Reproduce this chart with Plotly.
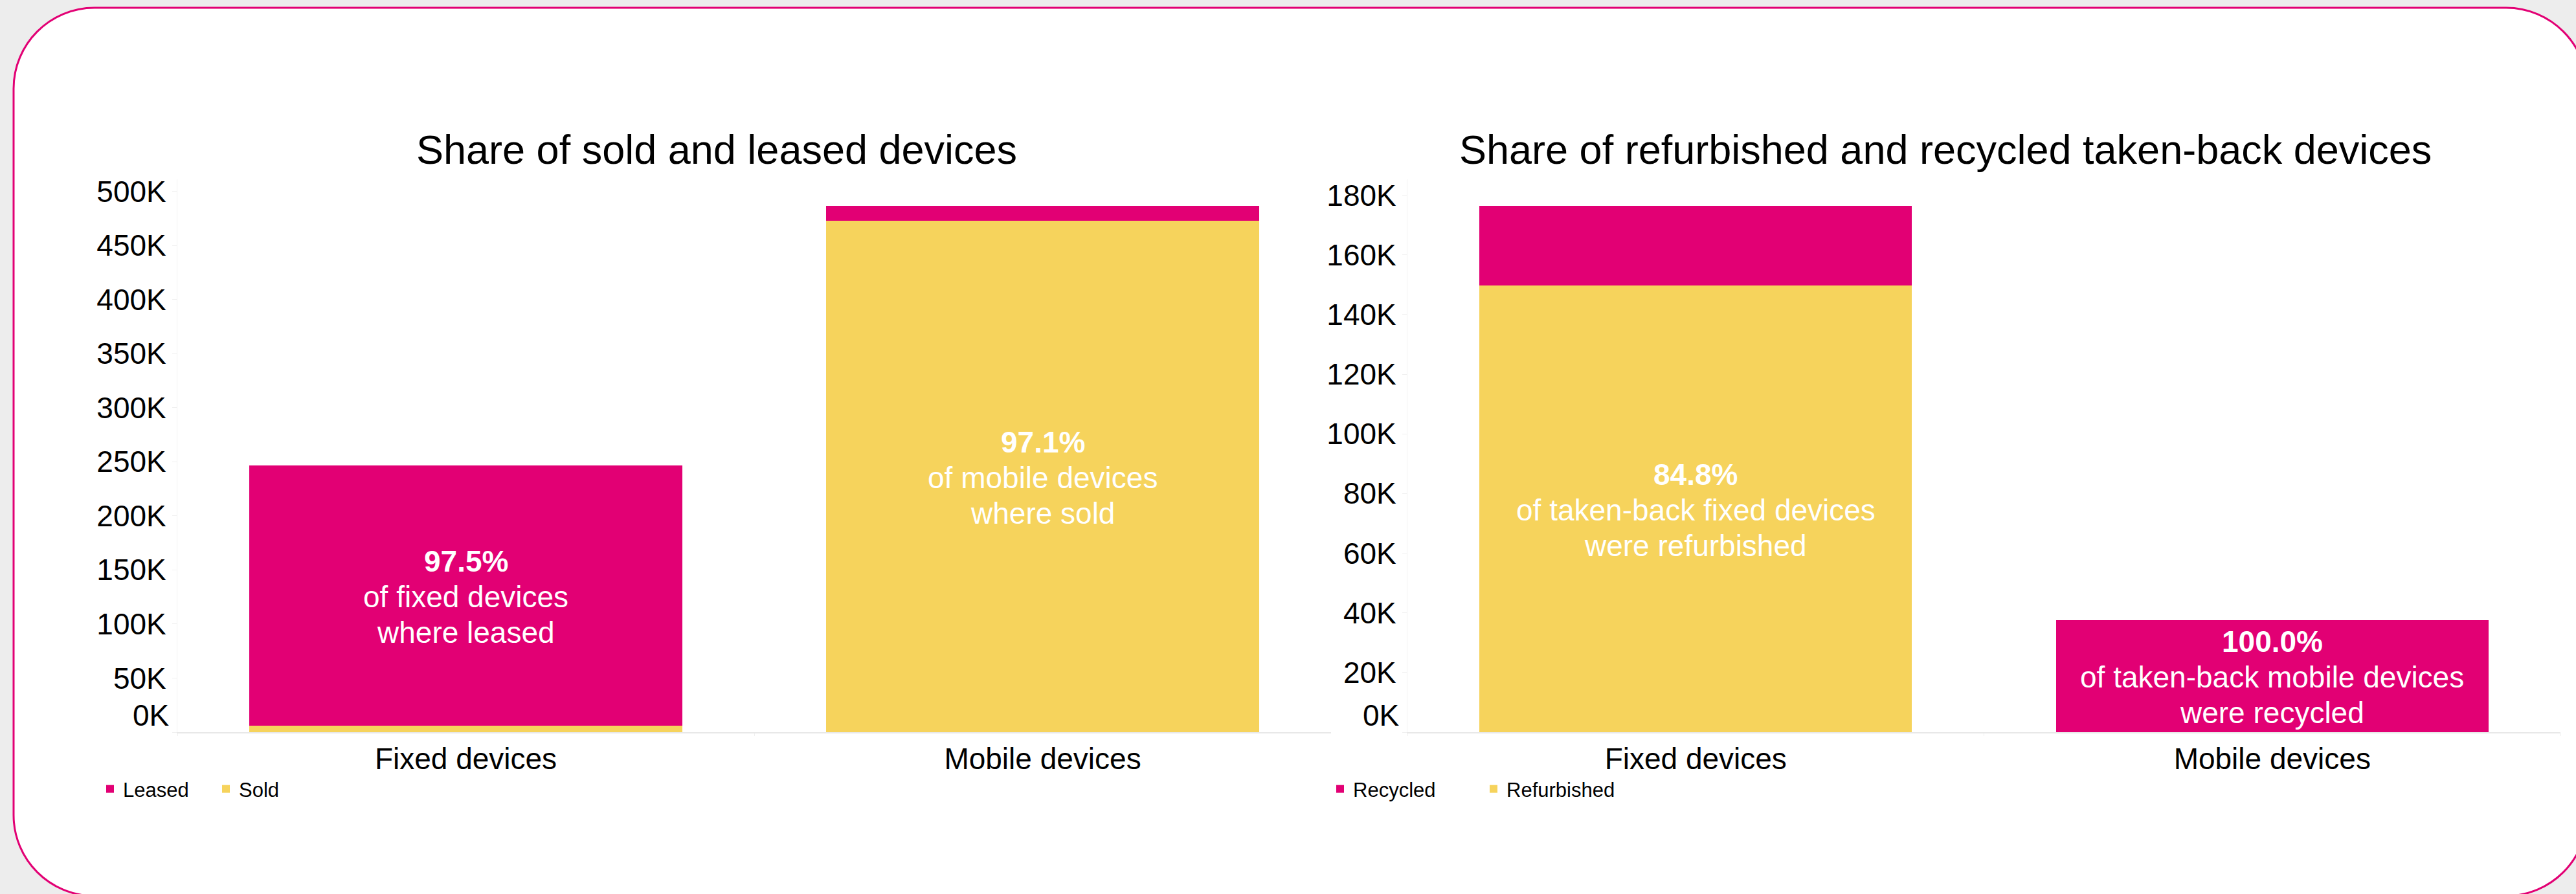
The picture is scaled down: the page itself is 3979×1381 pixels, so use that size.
import plotly.graph_objects as go

# ---------------- data ----------------
categories = ["Fixed devices", "Mobile devices"]

sold = [6200, 472600]          # bottom segment, left chart
leased = [240500, 14200]       # top segment, left chart

refurbished = [149700, 0]      # bottom segment, right chart
recycled = [26800, 37600]      # top segment, right chart

left_ticks = [0, 50000, 100000, 150000, 200000, 250000, 300000, 350000, 400000, 450000, 500000]
right_ticks = [0, 20000, 40000, 60000, 80000, 100000, 120000, 140000, 160000, 180000]

left_title = "Share of sold and leased devices"
right_title = "Share of refurbished and recycled taken-back devices"

# ---------------- style ----------------
MAGENTA = "#E20074"
YELLOW = "#F6D35C"
FONT = "Liberation Sans, Arial, sans-serif"
W, H = 3979, 1381


def px_x(x):
    return x / W


def px_y(y):
    return (H - y) / H


def k_label(v):
    return f"{int(v / 1000)}K"


fig = go.Figure()

fig.add_trace(go.Bar(x=categories, y=sold, name="Sold", marker_color=YELLOW,
                     xaxis="x", yaxis="y", legend="legend"))
fig.add_trace(go.Bar(x=categories, y=leased, name="Leased", marker_color=MAGENTA,
                     xaxis="x", yaxis="y", legend="legend"))
fig.add_trace(go.Bar(x=categories, y=refurbished, name="Refurbished", marker_color=YELLOW,
                     xaxis="x2", yaxis="y2", legend="legend2"))
fig.add_trace(go.Bar(x=categories, y=recycled, name="Recycled", marker_color=MAGENTA,
                     xaxis="x2", yaxis="y2", legend="legend2"))

left_max = max(s + l for s, l in zip(sold, leased)) * 1.05
right_max = max(r + c for r, c in zip(refurbished, recycled)) * 1.05

ydom = [px_y(1131), px_y(277)]

axis_font = dict(family=FONT, size=46, color="#000000")
YTICKLEN = 7

common_x = dict(type="category", tickfont=axis_font, showline=True, linecolor="#E8E8E8",
                linewidth=2, showgrid=False, ticks="outside", tickson="boundaries",
                ticklen=4, tickcolor="#EFEFEF", zeroline=False, fixedrange=True,
                automargin=False)
common_y = dict(tickfont=axis_font, showline=True, linecolor="#F2F2F2", linewidth=1,
                showgrid=False, ticks="outside", ticklen=YTICKLEN, tickcolor="#F0F0F0",
                zeroline=False, domain=ydom, automargin=False)

# zero label is drawn separately (it sits a little above the baseline)
left_text = ["" if v == 0 else k_label(v) for v in left_ticks]
right_text = ["" if v == 0 else k_label(v) for v in right_ticks]

fig.update_layout(
    template="none",
    width=W, height=H,
    autosize=False,
    margin=dict(l=0, r=0, t=0, b=0, pad=0, autoexpand=False),
    paper_bgcolor="#EDEDED",
    plot_bgcolor="rgba(0,0,0,0)",
    barmode="stack",
    bargap=0.25,
    font=dict(family=FONT, color="#000000"),
    xaxis=dict(domain=[px_x(274), px_x(2056)], anchor="y", **common_x),
    xaxis2=dict(domain=[px_x(2174), px_x(3955)], anchor="y2", **common_x),
    yaxis=dict(anchor="x", range=[0, left_max], tickvals=left_ticks,
               ticktext=left_text, **common_y),
    yaxis2=dict(anchor="x2", range=[0, right_max], tickvals=right_ticks,
                ticktext=right_text, **common_y),
    legend=dict(orientation="h", traceorder="reversed", x=px_x(150), xanchor="left",
                y=px_y(1219), yanchor="middle", font=dict(family=FONT, size=31, color="#000"),
                entrywidth=134, entrywidthmode="pixels", bgcolor="rgba(0,0,0,0)",
                borderwidth=0),
    legend2=dict(orientation="h", traceorder="reversed", x=px_x(2050), xanchor="left",
                 y=px_y(1219), yanchor="middle", font=dict(family=FONT, size=31, color="#000"),
                 entrywidth=192, entrywidthmode="pixels", bgcolor="rgba(0,0,0,0)",
                 borderwidth=0),
    showlegend=True,
)

for xr, yr in (("x domain", "y"), ("x2 domain", "y2")):
    fig.add_annotation(text=k_label(0), x=0, y=0, xref=xr, yref=yr, showarrow=False,
                       xanchor="right", yanchor="middle", xshift=-(YTICKLEN + 3), yshift=26,
                       font=axis_font)

# rounded card with magenta border
L, T, R, B, r = 21, 12, 3996, 1384, 125
k = 0.5523 * r
path = (
    f"M {px_x(L + r)},{px_y(T)} "
    f"L {px_x(R - r)},{px_y(T)} "
    f"C {px_x(R - r + k)},{px_y(T)} {px_x(R)},{px_y(T + r - k)} {px_x(R)},{px_y(T + r)} "
    f"L {px_x(R)},{px_y(B - r)} "
    f"C {px_x(R)},{px_y(B - r + k)} {px_x(R - r + k)},{px_y(B)} {px_x(R - r)},{px_y(B)} "
    f"L {px_x(L + r)},{px_y(B)} "
    f"C {px_x(L + r - k)},{px_y(B)} {px_x(L)},{px_y(B - r + k)} {px_x(L)},{px_y(B - r)} "
    f"L {px_x(L)},{px_y(T + r)} "
    f"C {px_x(L)},{px_y(T + r - k)} {px_x(L + r - k)},{px_y(T)} {px_x(L + r)},{px_y(T)} Z"
)
fig.add_shape(type="path", path=path, xref="paper", yref="paper", layer="below",
              fillcolor="#FFFFFF", line=dict(color=MAGENTA, width=3))

# titles
fig.add_annotation(text=left_title, x=px_x(1107), y=px_y(231), xref="paper", yref="paper",
                   showarrow=False, xanchor="center", yanchor="middle",
                   font=dict(family=FONT, size=63, color="#000"))
fig.add_annotation(text=right_title, x=px_x(3005), y=px_y(231), xref="paper", yref="paper",
                   showarrow=False, xanchor="center", yanchor="middle",
                   font=dict(family=FONT, size=63, color="#000"))

# in-bar labels
LINE = 55
lab_font = dict(family=FONT, size=46, color="#FFFFFF")


def bar_label(xref, yref, cat, ymid, pct, line2, line3):
    for txt, shift in ((f"<b>{pct:.1f}%</b>", LINE), (line2, 0), (line3, -LINE)):
        fig.add_annotation(text=txt, x=cat, y=ymid, xref=xref, yref=yref, showarrow=False,
                           xanchor="center", yanchor="middle", yshift=shift - 2, font=lab_font)


bar_label("x", "y", categories[0], sold[0] + leased[0] / 2,
          100 * leased[0] / (sold[0] + leased[0]), "of fixed devices", "where leased")
bar_label("x", "y", categories[1], sold[1] / 2,
          100 * sold[1] / (sold[1] + leased[1]), "of mobile devices", "where sold")
bar_label("x2", "y2", categories[0], refurbished[0] / 2,
          100 * refurbished[0] / (refurbished[0] + recycled[0]),
          "of taken-back fixed devices", "were refurbished")
bar_label("x2", "y2", categories[1], refurbished[1] + recycled[1] / 2,
          100 * recycled[1] / (refurbished[1] + recycled[1]),
          "of taken-back mobile devices", "were recycled")

fig.write_html("out.html")
